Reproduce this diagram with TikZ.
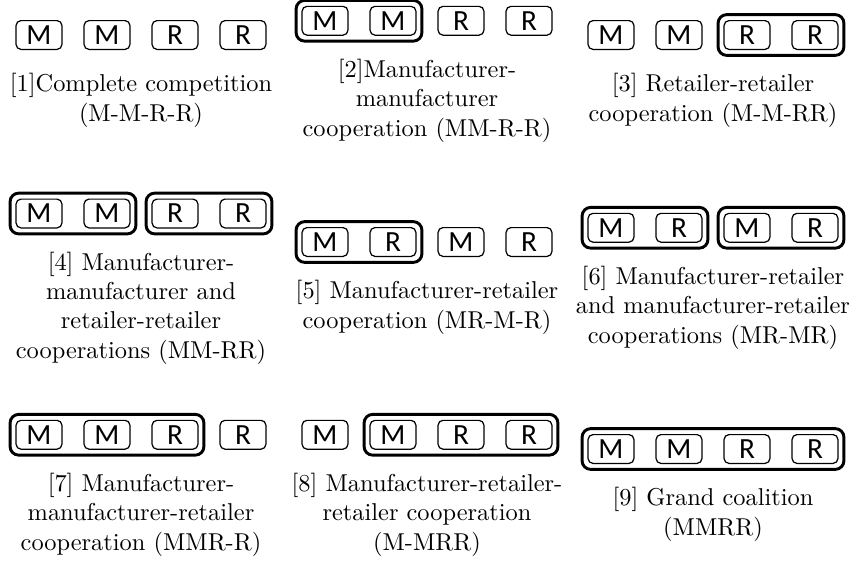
\documentclass[tikz,border=0pt]{standalone}
\usepackage{fontspec}
\newfontfamily\agentfont{Carlito}
\usetikzlibrary{fit}
\tikzset{
  agent/.style={draw, rounded corners=2pt, line width=0.5pt, minimum width=18.8pt,
    minimum height=11.8pt, inner sep=0pt, font=\agentfont\fontsize{12}{12}\selectfont},
  coalition/.style={draw, rounded corners=3.5pt, line width=1.2pt, inner sep=2.2pt},
  caption/.style={anchor=north, align=center, inner sep=0pt, font=\fontsize{10}{12}\selectfont}
}
\begin{document}
\begin{tikzpicture}[x=0.41pt,y=-0.41pt]
\useasboundingbox (0,0) rectangle (853,565);
% first row
\foreach \n/\l [count=\k] in {a/M,b/M,c/R,d/R}{
  \node[agent] (p1\n) at ({141+68*(\k-2.5)},35) {\l};
  \node[agent] (p2\n) at ({427+68*(\k-2.5)},20.75) {\l};
  \node[agent] (p3\n) at ({713+68*(\k-2.5)},35) {\l};
}
\node[coalition, fit=(p2a)(p2b)] (p2ab) {};
\node[coalition, fit=(p3c)(p3d)] (p3cd) {};
\node[caption] (cap1) at (141,73) {[1]Complete competition\\(M-M-R-R)};
\node[caption] (cap2) at (427,58.75) {[2]Manufacturer-\\manufacturer\\cooperation (MM-R-R)};
\node[caption] (cap3) at (713,73) {[3] Retailer-retailer\\cooperation (M-M-RR)};
% second row
\foreach \n/\l [count=\k] in {a/M,b/M,c/R,d/R}
  \node[agent] (p4\n) at ({141+68*(\k-2.5)},213.5) {\l};
\foreach \n/\l [count=\k] in {a/M,b/R,c/M,d/R}{
  \node[agent] (p5\n) at ({427+68*(\k-2.5)},242) {\l};
  \node[agent] (p6\n) at ({713+68*(\k-2.5)},227.75) {\l};
}
\node[coalition, fit=(p4a)(p4b)] (p4ab) {};
\node[coalition, fit=(p4c)(p4d)] (p4cd) {};
\node[coalition, fit=(p5a)(p5b)] (p5ab) {};
\node[coalition, fit=(p6a)(p6b)] (p6ab) {};
\node[coalition, fit=(p6c)(p6d)] (p6cd) {};
\node[caption] (cap4) at (141,251.5) {[4] Manufacturer-\\manufacturer and\\retailer-retailer\\cooperations (MM-RR)};
\node[caption] (cap5) at (427,280) {[5] Manufacturer-retailer\\cooperation (MR-M-R)};
\node[caption] (cap6) at (713,265.75) {[6] Manufacturer-retailer\\and manufacturer-retailer\\cooperations (MR-MR)};
% third row
\foreach \n/\l [count=\k] in {a/M,b/M,c/R,d/R}{
  \node[agent] (p7\n) at ({141+68*(\k-2.5)},434.75) {\l};
  \node[agent] (p8\n) at ({427+68*(\k-2.5)},434.75) {\l};
  \node[agent] (p9\n) at ({713+68*(\k-2.5)},449) {\l};
}
\node[coalition, fit=(p7a)(p7c)] (p7ac) {};
\node[coalition, fit=(p8b)(p8d)] (p8bd) {};
\node[coalition, fit=(p9a)(p9d)] (p9ad) {};
\node[caption] (cap7) at (141,472.75) {[7] Manufacturer-\\manufacturer-retailer\\cooperation (MMR-R)};
\node[caption] (cap8) at (427,472.75) {[8] Manufacturer-retailer-\\retailer cooperation\\(M-MRR)};
\node[caption] (cap9) at (713,487) {[9] Grand coalition\\(MMRR)};
\end{tikzpicture}
\end{document}
